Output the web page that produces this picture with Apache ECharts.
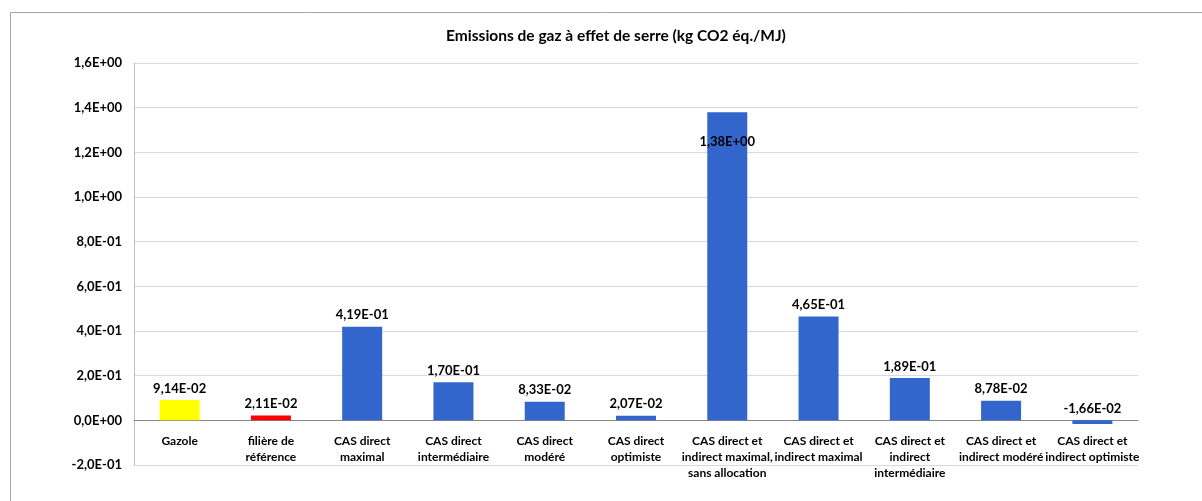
<!DOCTYPE html>
<html><head><meta charset="utf-8">
<script src="https://cdn.jsdelivr.net/npm/echarts@6/dist/echarts.min.js"></script>
<style>html,body{margin:0;padding:0;background:#fff}#c{width:1202px;height:501px}</style>
</head><body><div id="c"></div>
<script>
var title = 'Emissions de gaz à effet de serre (kg CO2 éq./MJ)';
var categories = ['Gazole', 'filière de\nréférence', 'CAS direct\nmaximal', 'CAS direct\nintermédiaire', 'CAS direct\nmodéré', 'CAS direct\noptimiste', 'CAS direct et\nindirect maximal,\nsans allocation', 'CAS direct et\nindirect maximal', 'CAS direct et\nindirect\nintermédiaire', 'CAS direct et\nindirect modéré', 'CAS direct et\nindirect optimiste'];
var values = [0.0914, 0.0211, 0.419, 0.170, 0.0833, 0.0207, 1.38, 0.465, 0.189, 0.0878, -0.0166];
var barColors = ['#FFFF00', '#FF0000', '#3366CC', '#3366CC', '#3366CC', '#3366CC', '#3366CC', '#3366CC', '#3366CC', '#3366CC', '#3366CC'];
var yMin = -0.2, yMax = 1.6, yStep = 0.2;

function sci(v, d) {
  if (Math.abs(v) < 1e-9) v = 0;
  var s = v.toExponential(d);
  var parts = s.split('e');
  var m = parts[0].replace('.', ',');
  var e = parseInt(parts[1], 10);
  var es = (e < 0 ? '-' : '+') + (Math.abs(e) < 10 ? '0' : '') + Math.abs(e);
  return m + 'E' + es;
}
var FONT = 'Lato';
var data = values.map(function (v, i) {
  var item = { value: v, itemStyle: { color: barColors[i] } };
  if (v > 1) item.label = { position: 'insideTop', distance: 23 };
  return item;
});
var gridTop = 63, gridBottom = 36, plotH = 501 - gridTop - gridBottom;
var zeroOffset = -plotH * (0 - yMin) / (yMax - yMin);
var chart = echarts.init(document.getElementById('c'));
chart.setOption({
  animation: false,
  textStyle: { fontFamily: FONT },
  title: { text: title, left: 611, textAlign: 'center', top: 23,
    textStyle: { fontFamily: FONT, fontSize: 15.5, fontWeight: 'bold', color: '#000' } },
  graphic: [{ type: 'rect', shape: { x: 10.5, y: 12.5, width: 1220, height: 520 },
    style: { fill: 'none', stroke: '#a6a6a6', lineWidth: 1 }, silent: true, z: -1 }],
  grid: { left: 134, right: 64, top: gridTop, bottom: gridBottom, containLabel: false, outerBoundsMode: 'none' },
  xAxis: {
    type: 'category', data: categories, position: 'bottom', offset: zeroOffset,
    axisLine: { onZero: false, lineStyle: { color: '#868686', width: 1 } },
    axisTick: { show: false },
    axisLabel: { interval: 0, margin: 13, fontFamily: FONT, fontSize: 12, fontWeight: 'bold', color: '#000', lineHeight: 16 }
  },
  yAxis: {
    type: 'value', min: yMin, max: yMax, interval: yStep,
    axisLine: { show: true, lineStyle: { color: '#bfbfbf' } },
    axisTick: { show: false },
    splitLine: { lineStyle: { color: '#d9d9d9', width: 1 } },
    axisLabel: { margin: 12, fontFamily: FONT, fontSize: 13, fontWeight: 'bold', color: '#000',
      formatter: function (v) { return sci(v, 1); } }
  },
  series: [{
    type: 'bar', data: data, barWidth: 40,
    label: { show: true, position: 'top', distance: 5, fontFamily: FONT, fontSize: 13, fontWeight: 'bold', color: '#000',
      formatter: function (p) { return sci(p.value, 2); } }
  }]
});
</script></body></html>
